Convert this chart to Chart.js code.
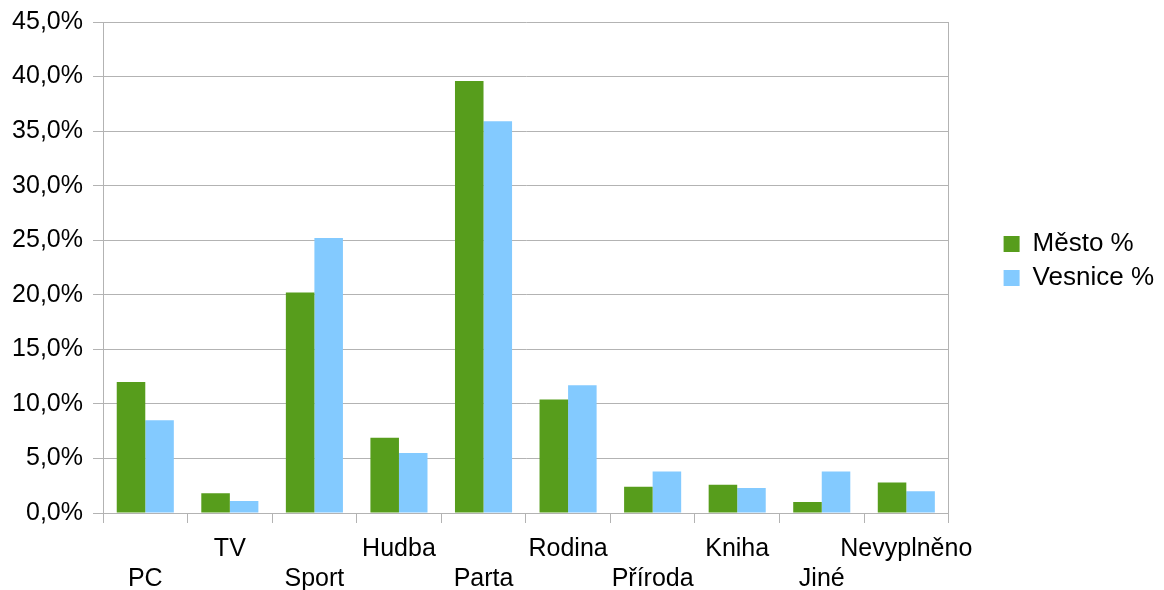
<!DOCTYPE html>
<html>
<head>
<meta charset="utf-8">
<script src="https://cdn.jsdelivr.net/npm/chart.js@4.4.1/dist/chart.umd.min.js"></script>
<style>
html,body{margin:0;padding:0;background:#fff;}
#wrap{width:1164px;height:590px;position:relative;}
</style>
</head>
<body>
<div id="wrap"><canvas id="c" width="1164" height="590"></canvas></div>
<script>
const categories = ['PC','TV','Sport','Hudba','Parta','Rodina','Příroda','Kniha','Jiné','Nevyplněno'];
const mestoValues = [12.0, 1.8, 20.2, 6.9, 39.6, 10.4, 2.4, 2.6, 1.0, 2.8];
const vesniceValues = [8.5, 1.1, 25.2, 5.5, 35.9, 11.7, 3.8, 2.3, 3.8, 2.0];
const seriesNames = ['Město %', 'Vesnice %'];
const yTicks = [0,5,10,15,20,25,30,35,40,45];

const FONT = 'Liberation Sans, Arial, sans-serif';
const GRID = '#b3b3b3';

const legendShift = {
  id: 'legendShift',
  afterLayout(chart) {
    const lg = chart.legend;
    if (lg) { lg.top -= 34; lg.bottom -= 34; }
  }
};

new Chart(document.getElementById('c'), {
  type: 'bar',
  data: {
    labels: categories,
    datasets: [
      {label: seriesNames[0], data: mestoValues, backgroundColor: '#579d1c', borderWidth: 0},
      {label: seriesNames[1], data: vesniceValues, backgroundColor: '#83caff', borderWidth: 0}
    ]
  },
  plugins: [legendShift],
  options: {
    responsive: false,
    animation: false,
    devicePixelRatio: 1,
    layout: {padding: {left: 0, right: 0, top: 0, bottom: 0}},
    datasets: {bar: {barPercentage: 1.0, categoryPercentage: 0.675}},
    plugins: {
      tooltip: {enabled: false},
      legend: {
        position: 'right',
        align: 'center',
        labels: {
          font: {family: FONT, size: 26},
          color: '#000',
          boxWidth: 16,
          boxHeight: 16,
          padding: 8
        }
      }
    },
    scales: {
      x: {
        grid: {
          offset: true,
          drawOnChartArea: false,
          tickColor: GRID,
          tickLength: 10,
          lineWidth: 1
        },
        border: {display: true, color: GRID, width: 1},
        afterFit: (s) => { s.height = 77; },
        ticks: {
          autoSkip: false,
          maxRotation: 0,
          minRotation: 0,
          padding: 11,
          color: '#000',
          font: {family: FONT, size: 25, lineHeight: 1.2},
          callback: function(v, i) {
            const l = categories[i];
            return i % 2 === 0 ? ['', l] : [l];
          }
        }
      },
      y: {
        min: 0,
        max: 45,
        afterBuildTicks: (s) => { s.ticks = yTicks.map(v => ({value: v})); },
        afterFit: (s) => { s.width = 103; s.paddingTop = 22; },
        grid: {color: GRID, tickColor: GRID, tickLength: 10, lineWidth: 1},
        border: {display: true, color: GRID, width: 1},
        ticks: {
          padding: 10,
          color: '#000',
          font: {family: FONT, size: 25},
          callback: (v) => v.toFixed(1).replace('.', ',') + '%'
        }
      },
      y2: {
        position: 'right',
        display: true,
        min: 0,
        max: 45,
        afterFit: (s) => { s.width = 47; s.paddingTop = 22; },
        grid: {display: false, drawTicks: false},
        border: {display: true, color: GRID, width: 1},
        ticks: {display: false}
      }
    }
  }
});
</script>
</body>
</html>
